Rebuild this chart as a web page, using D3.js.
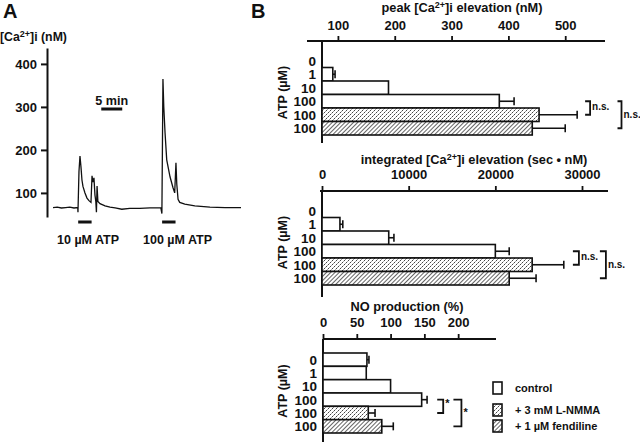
<!DOCTYPE html>
<html><head><meta charset="utf-8">
<script src="https://cdn.jsdelivr.net/npm/d3@7"></script>
<style>
body{margin:0;background:#fff}
svg{display:block}
text{font-family:"Liberation Sans",Arial,Helvetica,sans-serif;font-weight:bold;fill:#111}
.tk text{font-size:13px}
.rl{font-size:13.5px}
.yl{font-size:12.5px}
.ttl{font-size:12.8px}
.lg{font-size:11px}
.big{font-size:20px}
</style>
</head><body><svg id="c" width="640" height="442"></svg>
<script>
// ---------- Panel A data (time in min, [Ca2+]i in nM) ----------
const traceTime = [0,1,2,3,4,5,5.9,5.95,6.19,6.43,6.67,6.9,7.14,7.62,8.1,8.57,9.05,9.3,9.5,9.76,10.0,10.2,10.35,10.5,10.7,11.2,12.4,13.6,14.8,16.4,18.3,20.7,23.1,25.7,25.95,26.07,26.2,26.4,26.7,27.1,27.9,28.6,29.0,29.3,29.5,29.8,30.2,31.4,33.8,37.4,41.0,44.8];
const traceCa   = [66,67,65,66,67,65,66,55,150,186,160,130,115,100,88,82,78,140,125,135,95,80,55,116,80,75,70,67,65,62,64,64,65,65,52,200,365,300,240,177,137,112,100,170,120,85,78,74,70,67,66,66];
const traceTicks = [100,200,300,400];
const stimLabels = ["10 µM ATP","100 µM ATP"];
const stimStart = [6,26];
const stimEnd = [9.2,29.2];
const scaleBarMin = 5;

// ---------- Panel B data ----------
const atpDoses = ["0","1","10","100","100","100"];
const treatment = ["control","control","control","control","lnmma","fendiline"];
const peakMean = [null,91,189,384,454,442];
const peakSem  = [0,4,0,26,67,58];
const peakTicks = [100,200,300,400,500];
const intMean = [null,2070,7700,20000,24250,21600];
const intSem  = [0,330,600,1600,3650,3100];
const intTicks = [0,10000,20000,30000];
const noMean = [65,64,100,146,67,87];
const noSem  = [3,0,0,8,10,17];
const noTicks = [0,50,100,150,200];
const legendKeys = ["control","lnmma","fendiline"];
const legendLabels = ["control","+ 3 mM L-NMMA","+ 1 µM fendiline"];

const svg = d3.select("#c");
const defs = svg.append("defs");
const dots = defs.append("pattern").attr("id","dots").attr("patternUnits","userSpaceOnUse").attr("width",4).attr("height",4);
dots.append("rect").attr("width",4).attr("height",4).attr("fill","#fff");
dots.append("rect").attr("x",0).attr("y",0).attr("width",1).attr("height",1).attr("fill","#444");
dots.append("rect").attr("x",2).attr("y",2).attr("width",1).attr("height",1).attr("fill","#444");
dots.append("rect").attr("x",1).attr("y",3).attr("width",1).attr("height",1).attr("fill","#999");
dots.append("rect").attr("x",3).attr("y",1).attr("width",1).attr("height",1).attr("fill","#aaa");
const hatch = defs.append("pattern").attr("id","hatch").attr("patternUnits","userSpaceOnUse").attr("width",3).attr("height",3).attr("patternTransform","rotate(45)");
hatch.append("rect").attr("width",3).attr("height",3).attr("fill","#fff");
hatch.append("line").attr("x1",0).attr("y1",0).attr("x2",0).attr("y2",3).attr("stroke","#111").attr("stroke-width",1.3);
const fillOf = {control:"#fff", lnmma:"url(#dots)", fendiline:"url(#hatch)"};

// ---------- Panel A ----------
svg.append("text").attr("class","big").attr("x",3).attr("y",18).text("A");
const xA = d3.scaleLinear().domain([0,44.8]).range([53,241]);
const yA = d3.scaleLinear().domain([44,437]).range([217,48]);
const gA = svg.append("g").attr("class","tk").attr("transform","translate(47,0)")
  .call(d3.axisLeft(yA).tickValues(traceTicks).tickSize(6).tickSizeOuter(0).tickPadding(4));
gA.attr("font-size",null).attr("font-family",null);
gA.selectAll("path,line").attr("stroke","#111").attr("stroke-width",2);
const caLbl = svg.append("text").attr("x",0).attr("y",41).style("font-size","12.3px");
caLbl.append("tspan").text("[Ca");
caLbl.append("tspan").attr("dy",-4).style("font-size","9px").text("2+");
caLbl.append("tspan").attr("dy",4).text("]i  (nM)");
svg.append("path")
  .attr("d", d3.line().x((d,i)=>xA(traceTime[i])).y(d=>yA(d))(traceCa))
  .attr("fill","none").attr("stroke","#111").attr("stroke-width",1.3);
stimLabels.forEach((lab,i)=>{
  svg.append("line").attr("x1",xA(stimStart[i])).attr("x2",xA(stimEnd[i])).attr("y1",222).attr("y2",222)
    .attr("stroke","#111").attr("stroke-width",3);
});
svg.append("text").attr("x",57).attr("y",244).style("font-size","12.5px").text(stimLabels[0]);
svg.append("text").attr("x",143).attr("y",244).style("font-size","12.5px").text(stimLabels[1]);
// scale bar
svg.append("line").attr("x1",xA(11.5)).attr("x2",xA(11.5+scaleBarMin)).attr("y1",109).attr("y2",109)
  .attr("stroke","#111").attr("stroke-width",3);
svg.append("text").attr("x",(xA(11.5)+xA(11.5+scaleBarMin))/2).attr("y",105).attr("text-anchor","middle")
  .style("font-size","12.6px").text("5 min");

// ---------- Panel B ----------
svg.append("text").attr("class","big").attr("x",251).attr("y",18).text("B");

function barPanel(cfg){
  const x = d3.scaleLinear().domain(cfg.domain).range(cfg.range);
  const y = d3.scaleBand().domain(d3.range(atpDoses.length)).range([cfg.rowTop,cfg.rowBottom]);
  const x0 = cfg.range[0];
  const g = svg.append("g");
  const ax = g.append("g").attr("class","tk").attr("transform",`translate(0,${cfg.axisY})`)
    .call(d3.axisTop(x).tickValues(cfg.ticks).tickSize(5).tickPadding(cfg.pad).tickFormat(d3.format("d")));
  ax.attr("font-size",null).attr("font-family",null);
  ax.select(".domain").remove();
  ax.selectAll("line").attr("stroke","#111").attr("stroke-width",1.8);
  g.append("line").attr("x1",cfg.axisLeft).attr("x2",cfg.range[1]).attr("y1",cfg.axisY).attr("y2",cfg.axisY)
    .attr("stroke","#111").attr("stroke-width",2);
  g.append("line").attr("x1",x0).attr("x2",x0).attr("y1",cfg.axisY).attr("y2",cfg.axisBottom)
    .attr("stroke","#111").attr("stroke-width",2);
  cfg.mean.forEach((v,i)=>{
    if(v==null) return;
    const cy = y(i)+y.bandwidth()/2;
    g.append("rect").attr("x",x0).attr("y",y(i)).attr("width",x(v)-x0).attr("height",y.bandwidth())
      .attr("fill",fillOf[treatment[i]]).attr("stroke","#111").attr("stroke-width",1.6);
    if(cfg.sem[i]>0){
      const xe = x(v+cfg.sem[i]);
      g.append("line").attr("x1",x(v)).attr("x2",xe).attr("y1",cy).attr("y2",cy).attr("stroke","#111").attr("stroke-width",1.6);
      g.append("line").attr("x1",xe).attr("x2",xe).attr("y1",cy-4).attr("y2",cy+4).attr("stroke","#111").attr("stroke-width",1.6);
    }
  });
  atpDoses.forEach((d,i)=>{
    g.append("text").attr("class","rl").attr("x",x0-6).attr("y",y(i)+y.bandwidth()/2+5)
      .attr("text-anchor","end").text(d);
  });
  const cyL = (cfg.rowTop+cfg.rowBottom)/2 - 2;
  g.append("text").attr("class","yl").attr("transform",`translate(287,${cyL}) rotate(-90)`)
    .attr("text-anchor","middle").text("ATP (µM)");
  cfg.brackets.forEach(b=>{
    const bx = x(b.at), y1 = y(b.from)+y.bandwidth()/2, y2 = y(b.to)+y.bandwidth()/2;
    g.append("path").attr("d",`M${bx},${y1}H${bx+b.w}V${y2}H${bx}`)
      .attr("fill","none").attr("stroke","#111").attr("stroke-width",1.8);
    g.append("text").attr("x",bx+b.w+2).attr("y",(y1+y2)/2+b.dy).style("font-size",cfg.markSize)
      .text(cfg.mark);
  });
  const t = g.append("text").attr("class","ttl").attr("x",cfg.titleX).attr("y",cfg.titleY).attr("text-anchor","middle");
  cfg.title.forEach(p=>{
    const s = t.append("tspan").text(p.t);
    if(p.sup){ s.attr("dy",-4).style("font-size","9px"); }
    if(p.down){ s.attr("dy",4); }
  });
  return {x,y};
}

barPanel({domain:[72,570], range:[322,605], axisY:41, axisLeft:307, axisBottom:143, rowTop:54, rowBottom:135,
  ticks:peakTicks, pad:6, mean:peakMean, sem:peakSem,
  brackets:[{at:535,from:3,to:4,w:5,dy:2},{at:592,from:3,to:5,w:4,dy:3}], mark:"n.s.", markSize:"10px",
  titleX:462, titleY:12,
  title:[{t:"peak [Ca"},{t:"2+",sup:true},{t:"]i elevation  (nM)",down:true}]});

barPanel({domain:[0,33000], range:[322,608], axisY:191, axisLeft:320, axisBottom:297, rowTop:204, rowBottom:285,
  ticks:intTicks, pad:7, mean:intMean, sem:intSem,
  brackets:[{at:28950,from:3,to:4,w:6,dy:2},{at:32065,from:3,to:5,w:6,dy:3}], mark:"n.s.", markSize:"10px",
  titleX:474, titleY:164,
  title:[{t:"integrated [Ca"},{t:"2+",sup:true},{t:"]i elevation   (sec • nM)",down:true}]});

barPanel({domain:[0,256], range:[323,496], axisY:339, axisLeft:323, axisBottom:445, rowTop:353, rowBottom:433,
  ticks:noTicks, pad:7, mean:noMean, sem:noSem,
  brackets:[{at:169,from:3,to:4,w:6,dy:1},{at:193,from:3,to:5,w:8,dy:3}], mark:"*", markSize:"11px",
  titleX:407, titleY:311,
  title:[{t:"NO production (%)"}]});

legendKeys.forEach((k,i)=>{
  const ly = [382,404,420][i];
  svg.append("rect").attr("x",493).attr("y",ly).attr("width",9).attr("height",12)
    .attr("fill",fillOf[k]).attr("stroke","#111").attr("stroke-width",1.6);
  svg.append("text").attr("class","lg").attr("x",515).attr("y",ly+10).text(legendLabels[i]);
});
</script>
</body></html>
